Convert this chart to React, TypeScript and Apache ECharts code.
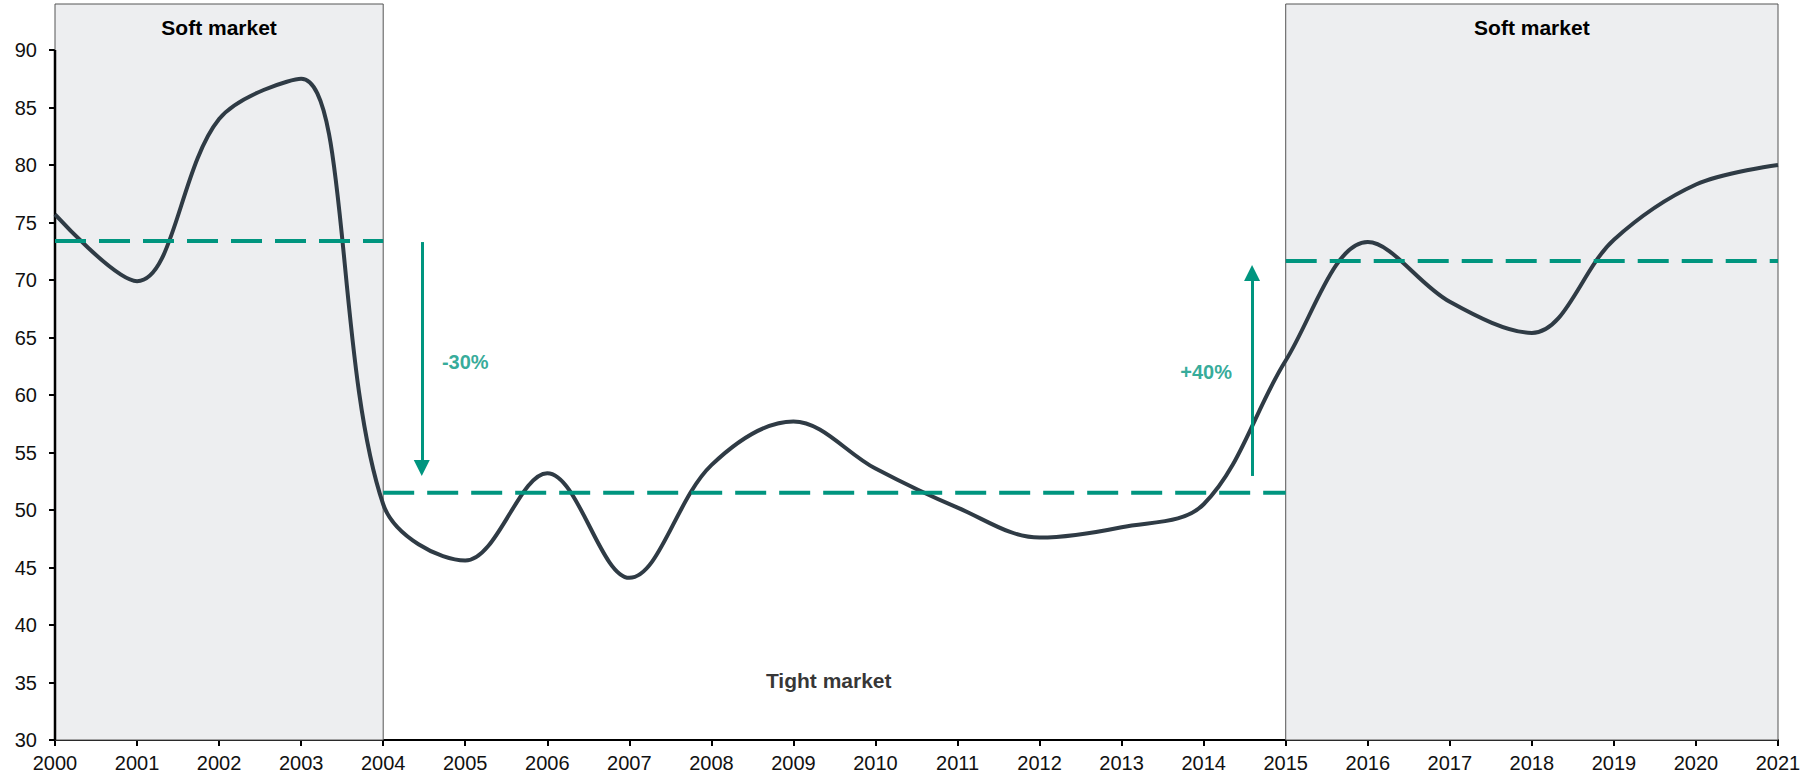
import React, { useEffect, useRef } from 'react';
import * as echarts from 'echarts';

// ---------- data ----------
const X_MIN = 2000;
const X_MAX = 2021;
const Y_MIN = 30;
const Y_MAX = 94;
const Y_TICKS = [30, 35, 40, 45, 50, 55, 60, 65, 70, 75, 80, 85, 90];

const YEARS = [2000, 2001, 2002, 2003, 2004, 2005, 2006, 2007, 2008, 2009, 2010,
  2011, 2012, 2013, 2014, 2015, 2016, 2017, 2018, 2019, 2020, 2021];
const VALUES = [75.7, 69.9, 84.0, 87.5, 50.5, 45.6, 53.2, 44.1, 53.9, 57.7, 53.6,
  50.2, 47.6, 48.5, 50.5, 63.0, 73.3, 68.1, 65.4, 73.5, 78.3, 80.0];

const SOFT_LABEL = 'Soft market';
const SOFT_START = [2000, 2015];
const SOFT_END = [2004, 2021];

const AVG_START = [2000, 2004, 2015];
const AVG_END = [2004, 2015, 2021];
const AVG_LEVEL = [73.4, 51.5, 71.65];

const ARROW_X = [2004.47, 2014.59];
const ARROW_FROM = [73.3, 52.96];
const ARROW_TO = [53.65, 70.6];

const CHANGE_LABELS = ['-30%', '+40%'];
const CHANGE_LABEL_X = [2005.0, 2014.03];
const CHANGE_LABEL_Y = [62.9, 62.0];

const TIGHT_LABEL = 'Tight market';
const TIGHT_X = 2009.43;
const TIGHT_Y = 35.2;

// ---------- styles ----------
const FONT = 'Arial, "Liberation Sans", sans-serif';
const TEAL = '#00957F';
const LINE_COLOR = '#2F3B45';
const SHADE = '#EDEEF0';

export default function App() {
  const ref = useRef<HTMLDivElement>(null);

  useEffect(() => {
    if (!ref.current) return;
    const chart = echarts.init(ref.current, null, { renderer: 'svg' });

    const softAreas = SOFT_START.map((s, i) => [
      { xAxis: s, yAxis: Y_MIN },
      { xAxis: SOFT_END[i], yAxis: Y_MAX },
    ]);

    const avgSeries = AVG_LEVEL.map((lvl, i) => ({
      type: 'line',
      name: 'avg' + i,
      data: [[AVG_START[i], lvl], [AVG_END[i], lvl]],
      symbol: 'none',
      silent: true,
      z: 5,
      lineStyle: { color: TEAL, width: 4, type: [31, 13] },
    }));

    const arrowLines = ARROW_X.map((x, i) => [
      { coord: [x, ARROW_FROM[i]] },
      { coord: [x, ARROW_TO[i]] },
    ]);

    const annotations = [
      ...CHANGE_LABELS.map((t, i) => ({
        name: t,
        value: [CHANGE_LABEL_X[i], CHANGE_LABEL_Y[i]],
        label: { color: TEAL, fontSize: 20 },
      })),
      {
        name: TIGHT_LABEL,
        value: [TIGHT_X, TIGHT_Y],
        label: { color: '#000', fontSize: 21 },
      },
    ];

    chart.setOption({
      animation: false,
      grid: { left: 55, right: 36, top: 4, bottom: 36, containLabel: false },
      xAxis: {
        type: 'value',
        min: X_MIN,
        max: X_MAX,
        interval: 1,
        splitLine: { show: false },
        axisLine: { show: true, onZero: false, lineStyle: { color: '#000', width: 2 } },
        axisTick: { show: true, length: 6, lineStyle: { color: '#000', width: 2 } },
        axisLabel: {
          color: '#111',
          fontSize: 20,
          fontFamily: FONT,
          margin: 13,
          formatter: (v: number) => String(v),
        },
      },
      yAxis: {
        type: 'value',
        min: Y_MIN,
        max: Y_MAX,
        interval: 5,
        splitLine: { show: false },
        axisLine: { show: false },
        axisTick: {
          show: true,
          length: 6,
          customValues: Y_TICKS,
          lineStyle: { color: '#000', width: 2 },
        },
        axisLabel: {
          color: '#111',
          fontSize: 20,
          fontFamily: FONT,
          margin: 18,
          customValues: Y_TICKS,
          formatter: (v: number) => (Y_TICKS.indexOf(v) >= 0 ? String(v) : ''),
        },
      },
      series: [
        {
          type: 'line',
          name: 'phases',
          data: [],
          silent: true,
          z: 1,
          markArea: {
            silent: true,
            itemStyle: { color: SHADE, borderColor: '#555', borderWidth: 1 },
            label: {
              show: true,
              position: 'insideTop',
              distance: 13,
              formatter: SOFT_LABEL,
              color: '#000',
              fontSize: 21,
              fontWeight: 'bold',
              fontFamily: FONT,
            },
            data: softAreas,
          },
        },
        {
          type: 'line',
          name: 'yAxisLine',
          data: [[X_MIN, Y_MIN], [X_MIN, Y_TICKS[Y_TICKS.length - 1]]],
          symbol: 'none',
          silent: true,
          z: 2,
          lineStyle: { color: '#000', width: 2.5 },
        },
        {
          type: 'line',
          name: 'arrows',
          data: [],
          silent: true,
          z: 3,
          markLine: {
            silent: true,
            symbol: ['none', 'triangle'],
            symbolSize: [16, 16],
            label: { show: false },
            lineStyle: { color: TEAL, width: 3, type: 'solid' },
            data: arrowLines,
          },
        },
        {
          type: 'line',
          name: 'Index',
          data: YEARS.map((y, i) => [y, VALUES[i]]),
          smooth: 0.35,
          symbol: 'none',
          z: 4,
          lineStyle: { color: LINE_COLOR, width: 4 },
        },
        ...avgSeries,
        {
          type: 'scatter',
          name: 'labels',
          symbolSize: 0,
          silent: true,
          z: 6,
          label: {
            show: true,
            position: 'inside',
            formatter: (p: any) => p.name,
            fontWeight: 'bold',
            fontFamily: FONT,
          },
          data: annotations,
        },
      ],
    });

    return () => chart.dispose();
  }, []);

  return (
    <div
      ref={ref}
      style={{ position: 'fixed', left: 0, top: 0, width: 1814, height: 776, background: '#fff' }}
    />
  );
}
